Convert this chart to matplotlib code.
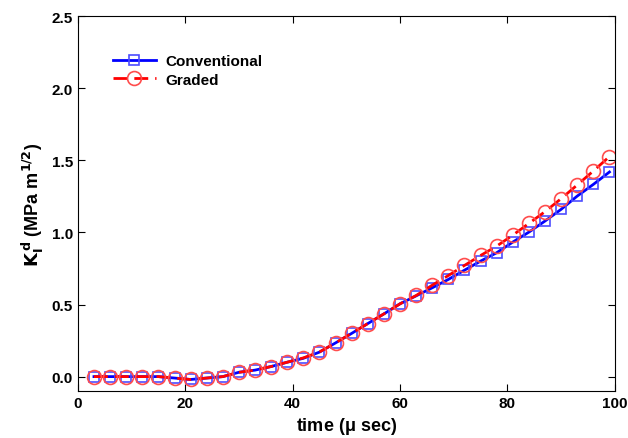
import matplotlib.pyplot as plt

# time in micro seconds
time_us = [3, 6, 9, 12, 15, 18, 21, 24, 27, 30, 33, 36, 39, 42, 45, 48, 51,
           54, 57, 60, 63, 66, 69, 72, 75, 78, 81, 84, 87, 90, 93, 96, 99]
conventional = [0.0, 0.0, 0.0, 0.0, 0.0, -0.01, -0.02, -0.01, 0.0, 0.03, 0.045,
                0.07, 0.10, 0.127, 0.17, 0.234, 0.30, 0.368, 0.435, 0.505,
                0.56, 0.616, 0.674, 0.738, 0.801, 0.859, 0.933, 1.002, 1.079,
                1.16, 1.252, 1.333, 1.419]
graded = [0.0, 0.0, 0.0, 0.0, 0.0, -0.01, -0.02, -0.01, 0.0, 0.03, 0.045,
          0.07, 0.10, 0.13, 0.171, 0.234, 0.301, 0.368, 0.435, 0.505,
          0.5625, 0.634, 0.701, 0.771, 0.840, 0.905, 0.981, 1.0625, 1.144,
          1.234, 1.329, 1.426, 1.526]

plt.rcParams['font.family'] = ['Liberation Sans', 'DejaVu Sans']
plt.rcParams['font.weight'] = 'bold'
plt.rcParams['mathtext.default'] = 'regular'

fig = plt.figure(figsize=(6.28, 4.39), dpi=100)
ax = fig.add_axes([0.124, 0.107, 0.855, 0.854])

ax.plot(time_us, conventional, color='blue', lw=2, marker='s', ms=7,
        mfc='none', mec=(0.3, 0.3, 1.0), mew=1.2, label='Conventional')
ax.plot(time_us, graded, color='red', lw=2, ls=(0, (5, 2.5)), marker='o', ms=10,
        mfc='none', mec=(1.0, 0.3, 0.3), mew=1.2, label='Graded')

ax.set_xlim(0, 100)
ax.set_ylim(-0.1, 2.5)
ax.set_xticks([0, 20, 40, 60, 80, 100])
ax.set_yticks([0.0, 0.5, 1.0, 1.5, 2.0, 2.5])
ax.set_yticklabels(['0.0', '0.5', '1.0', '1.5', '2.0', '2.5'])
ax.tick_params(direction='in', top=True, right=True, length=5, labelsize=11)
for lab in ax.get_xticklabels() + ax.get_yticklabels():
    lab.set_fontweight('bold')

ax.set_xlabel(r'time ($\mu$ sec)', fontsize=13, fontweight='bold')
ax.set_ylabel(r'$\mathbf{K_I^{\,d}}$ (MPa m$\mathbf{^{1/2}}$)', fontsize=13, fontweight='bold')

ax.legend(loc='upper left', bbox_to_anchor=(0.04, 0.935), frameon=False,
          handlelength=2.8, handletextpad=0.6, labelspacing=0.3,
          prop={'weight': 'bold', 'size': 11})

fig.savefig('out.png', dpi=100)
